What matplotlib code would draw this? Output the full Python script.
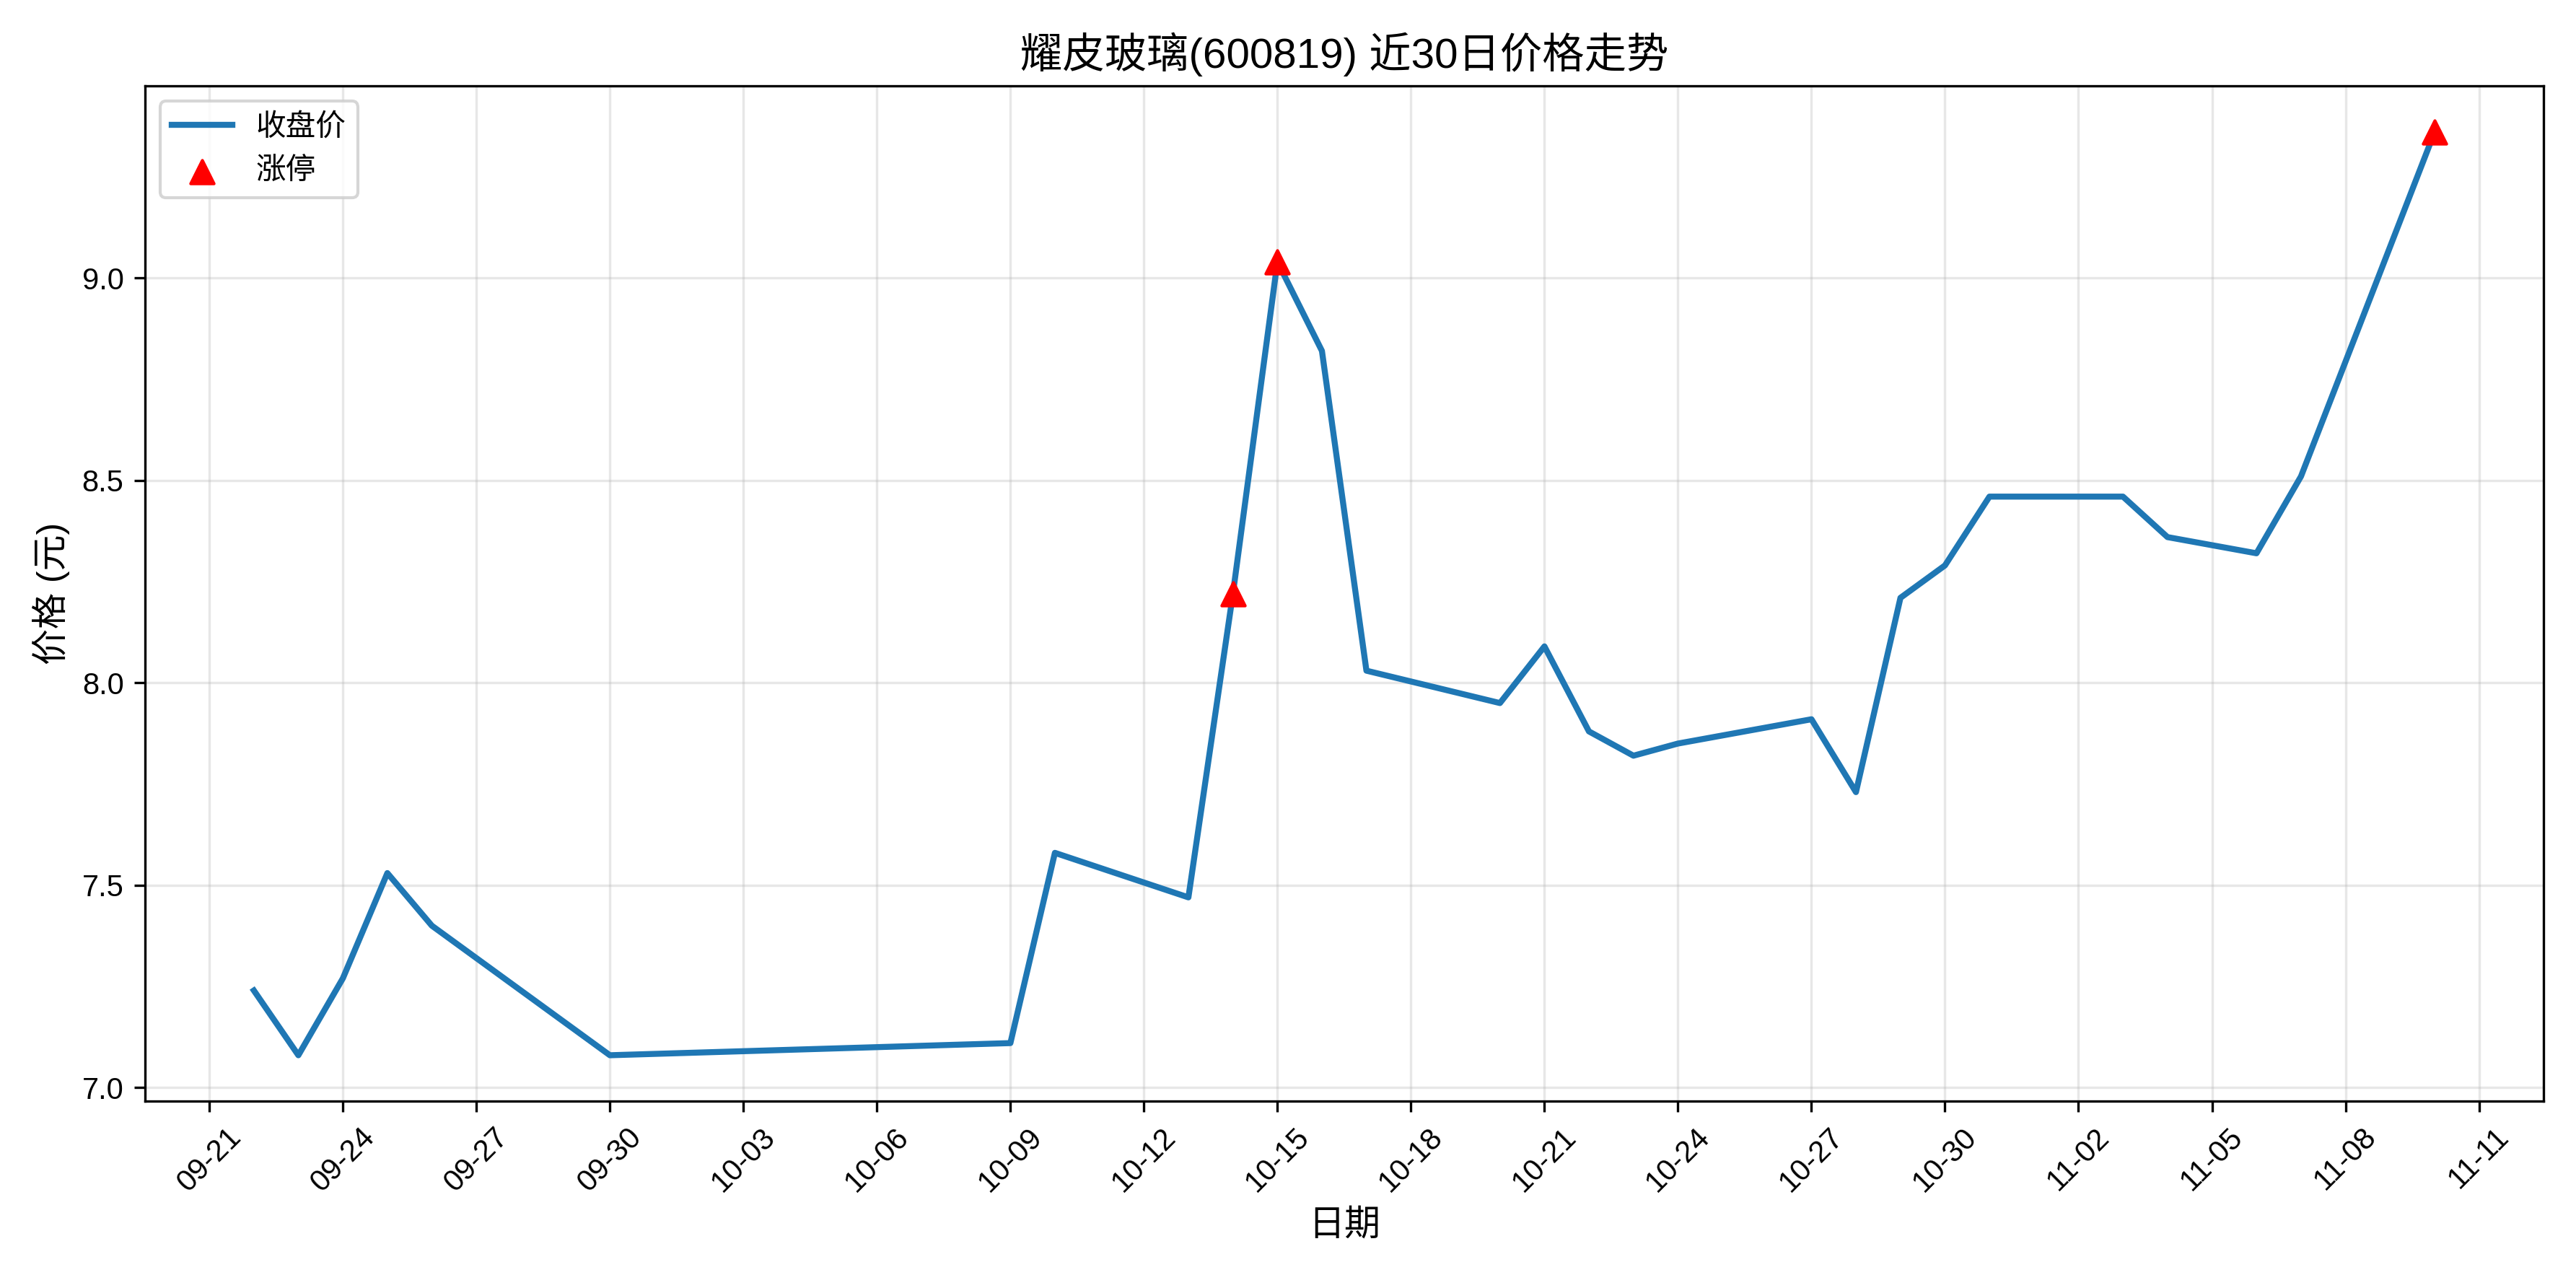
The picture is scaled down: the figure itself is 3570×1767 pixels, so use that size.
import pandas as pd
import matplotlib
matplotlib.use("Agg")
import matplotlib.pyplot as plt
import matplotlib.dates as mdates

plt.rcParams['font.family'] = ['Liberation Sans', 'Noto Sans CJK SC', 'DejaVu Sans']
plt.rcParams['axes.unicode_minus'] = False

dates = ["2025-09-22", "2025-09-23", "2025-09-24", "2025-09-25", "2025-09-26",
         "2025-09-30", "2025-10-09", "2025-10-10", "2025-10-13", "2025-10-14",
         "2025-10-15", "2025-10-16", "2025-10-17", "2025-10-20", "2025-10-21",
         "2025-10-22", "2025-10-23", "2025-10-24", "2025-10-27", "2025-10-28",
         "2025-10-29", "2025-10-30", "2025-10-31", "2025-11-03", "2025-11-04",
         "2025-11-06", "2025-11-07", "2025-11-10"]
close = [7.24, 7.08, 7.27, 7.53, 7.40, 7.08, 7.11, 7.58, 7.47, 8.22,
         9.04, 8.82, 8.03, 7.95, 8.09, 7.88, 7.82, 7.85, 7.91, 7.73,
         8.21, 8.29, 8.46, 8.46, 8.36, 8.32, 8.51, 9.36]
limit_up_dates = ["2025-10-14", "2025-10-15", "2025-11-10"]
limit_up_close = [8.22, 9.04, 9.36]

d = pd.to_datetime(dates)
lu = pd.to_datetime(limit_up_dates)

fig, ax = plt.subplots(figsize=(11.9, 5.89), dpi=300)
ax.plot(d, close, color="#1f77b4", linewidth=2, label="收盘价")
ax.scatter(lu, limit_up_close, color="red", marker="^", s=60, zorder=5, label="涨停")
ax.set_title("耀皮玻璃(600819) 近30日价格走势", fontsize=14)
ax.set_xlabel("日期", fontsize=12)
ax.set_ylabel("价格 (元)", fontsize=12)
ax.set_xticks(pd.date_range("2025-09-21", "2025-11-11", freq="3D"))
ax.xaxis.set_major_formatter(mdates.DateFormatter("%m-%d"))
plt.setp(ax.get_xticklabels(), rotation=45)
ax.grid(True, alpha=0.3)
ax.legend(loc="upper left")
plt.tight_layout()
plt.savefig("out.png", dpi=300)
